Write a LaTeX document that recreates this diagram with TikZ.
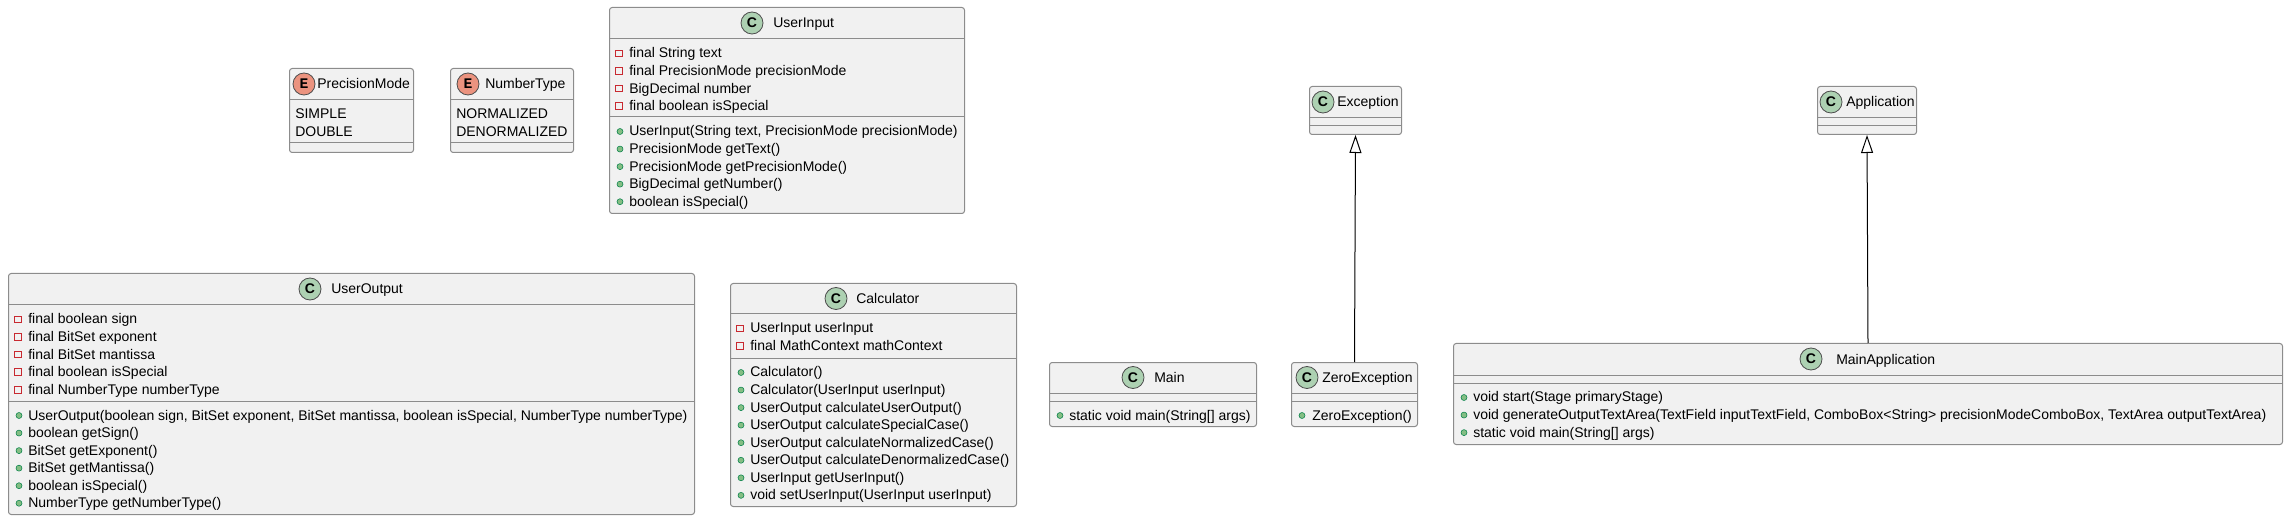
\documentclass[tikz,border=0pt]{standalone}
\usepackage{fontspec}
\setmainfont{Liberation Sans}
\newfontfamily\spotmono{Liberation Mono}
\usepackage{xcolor}
\usetikzlibrary{arrows.meta}

\definecolor{boxfill}{HTML}{F1F1F1}
\definecolor{boxline}{HTML}{8C8C8C}
\definecolor{spotgreen}{HTML}{ADD1B2}
\definecolor{spotred}{HTML}{EB937F}
\definecolor{spotline}{HTML}{4D4D4D}
\definecolor{privred}{HTML}{C82930}
\definecolor{pubgreen}{HTML}{84BE84}
\definecolor{publine}{HTML}{038048}

\newdimen\umlpx
\umlpx=0.75pt
\newcommand\umlfont{\fontsize{10.5pt}{12pt}\selectfont}

\tikzset{
    classbox/.style={draw=boxline, fill=boxfill, rounded corners=2pt, line width=0.75pt,
        anchor=north west, inner sep=0pt},
    sepline/.style={draw=boxline, line width=0.75pt},
    cspot/.style={circle, draw=spotline, fill=spotgreen, minimum size=16.5pt, inner sep=0pt,
        line width=0.6pt, font=\fontsize{10.5pt}{10.5pt}\selectfont\bfseries},
    espot/.style={cspot, fill=spotred, font=\spotmono\fontsize{11pt}{11pt}\selectfont\bfseries},
    title/.style={anchor=base west, inner sep=0pt, font=\umlfont},
    member/.style={anchor=base west, inner sep=0pt, font=\umlfont},
    privmark/.style={rectangle, draw=privred, minimum size=5pt, inner sep=0pt, line width=0.75pt},
    pubmark/.style={circle, draw=publine, fill=pubgreen, minimum size=4.5pt, inner sep=0pt, line width=0.4pt},
    extends/.style={-{Triangle[open, length=13.5pt, width=9pt]}, line width=0.75pt, black},
}

\begin{document}
\begin{tikzpicture}[x=0.75pt, y=-0.75pt]
    \useasboundingbox (0,0) rectangle (2285,520);

    % Enums --  --  --  --  --  --  --  --  --  --  --  --  --  --  --
    % PrecisionMode
    \node[classbox, minimum width=124\umlpx, minimum height=84\umlpx] (pmo) at (289,68) {};
    \draw[sepline] (289,100) -- (413,100);
    \draw[sepline] (289,143) -- (413,143);
    \node[espot] (pmo-spot) at (304,84) {E};
    \node[title] (pmo-name) at (317,89) {PrecisionMode};
    \foreach \txt [count=\i] in {SIMPLE, DOUBLE}
        \node[member] (pmo-v\i) at (295,{118.5+(\i-1)*17.55}) {\txt};

    % NumberType
    \node[classbox, minimum width=123\umlpx, minimum height=84\umlpx] (nty) at (450,68) {};
    \draw[sepline] (450,100) -- (573,100);
    \draw[sepline] (450,143) -- (573,143);
    \node[espot] (nty-spot) at (468,84) {E};
    \node[title] (nty-name) at (485,89) {NumberType};
    \foreach \txt [count=\i] in {NORMALIZED, DENORMALIZED}
        \node[member] (nty-v\i) at (456,{118.5+(\i-1)*17.55}) {\txt};
    %  --  --  --  --  --  --  --  --  --  --  --  --  --  --  --  --

    % UserInput --  --  --  --  --  --  --  --  --  --  --  --  --  --
    \node[classbox, minimum width=355\umlpx, minimum height=206\umlpx] (uin) at (609,7) {};
    \draw[sepline] (609,39) -- (964,39);
    \draw[sepline] (609,117) -- (964,117);
    \node[cspot] (uin-spot) at (752,23) {C};
    \node[title] (uin-name) at (773,28) {UserInput};
    \foreach \txt [count=\i] in {final String text, final PrecisionMode precisionMode,
            BigDecimal number, final boolean isSpecial} {
        \node[privmark] (uin-pa\i) at (619,{53.5+(\i-1)*17.55}) {};
        \node[member] (uin-a\i) at (629,{58+(\i-1)*17.55}) {\txt};
    }
    \foreach \txt [count=\i] in {{UserInput(String text, PrecisionMode precisionMode)},
            PrecisionMode getText(), PrecisionMode getPrecisionMode(),
            BigDecimal getNumber(), boolean isSpecial()} {
        \node[pubmark] (uin-pm\i) at (620,{131.5+(\i-1)*17.55}) {};
        \node[member] (uin-m\i) at (629,{136+(\i-1)*17.55}) {\txt};
    }
    %  --  --  --  --  --  --  --  --  --  --  --  --  --  --  --  --

    % Exception and Application --  --  --  --  --  --  --  --  --  --
    \node[classbox, minimum width=92\umlpx, minimum height=48\umlpx] (exc) at (1309,86) {};
    \draw[sepline] (1309,118) -- (1401,118);
    \draw[sepline] (1309,126) -- (1401,126);
    \node[cspot] (exc-spot) at (1323,102) {C};
    \node[title] (exc-name) at (1337,107) {Exception};

    \node[classbox, minimum width=99\umlpx, minimum height=48\umlpx] (app) at (1817,86) {};
    \draw[sepline] (1817,118) -- (1916,118);
    \draw[sepline] (1817,126) -- (1916,126);
    \node[cspot] (app-spot) at (1831,102) {C};
    \node[title] (app-name) at (1846,107) {Application};
    %  --  --  --  --  --  --  --  --  --  --  --  --  --  --  --  --

    % UserOutput --  --  --  --  --  --  --  --  --  --  --  --  --  --
    \node[classbox, minimum width=686\umlpx, minimum height=241\umlpx] (uou) at (8,273) {};
    \draw[sepline] (8,305) -- (694,305);
    \draw[sepline] (8,401) -- (694,401);
    \node[cspot] (uou-spot) at (310,289) {C};
    \node[title] (uou-name) at (331,294) {UserOutput};
    \foreach \txt [count=\i] in {final boolean sign, final BitSet exponent, final BitSet mantissa,
            final boolean isSpecial, final NumberType numberType} {
        \node[privmark] (uou-pa\i) at (18,{319.5+(\i-1)*17.55}) {};
        \node[member] (uou-a\i) at (28,{324+(\i-1)*17.55}) {\txt};
    }
    \foreach \txt [count=\i] in {{UserOutput(boolean sign, BitSet exponent, BitSet mantissa, boolean isSpecial, NumberType numberType)},
            boolean getSign(), BitSet getExponent(), BitSet getMantissa(),
            boolean isSpecial(), NumberType getNumberType()} {
        \node[pubmark] (uou-pm\i) at (19,{415.5+(\i-1)*17.55}) {};
        \node[member] (uou-m\i) at (28,{420+(\i-1)*17.55}) {\txt};
    }
    %  --  --  --  --  --  --  --  --  --  --  --  --  --  --  --  --

    % Calculator --  --  --  --  --  --  --  --  --  --  --  --  --  --
    \node[classbox, minimum width=286\umlpx, minimum height=223\umlpx] (cal) at (730,283) {};
    \draw[sepline] (730,314) -- (1016,314);
    \draw[sepline] (730,358) -- (1016,358);
    \node[cspot] (cal-spot) at (836,298.5) {C};
    \node[title] (cal-name) at (856,303.5) {Calculator};
    \foreach \txt [count=\i] in {UserInput userInput, final MathContext mathContext} {
        \node[privmark] (cal-pa\i) at (740,{328.5+(\i-1)*17.55}) {};
        \node[member] (cal-a\i) at (750,{333+(\i-1)*17.55}) {\txt};
    }
    \foreach \txt [count=\i] in {Calculator(), Calculator(UserInput userInput),
            UserOutput calculateUserOutput(), UserOutput calculateSpecialCase(),
            UserOutput calculateNormalizedCase(), UserOutput calculateDenormalizedCase(),
            UserInput getUserInput(), void setUserInput(UserInput userInput)} {
        \node[pubmark] (cal-pm\i) at (741,{372.5+(\i-1)*17.55}) {};
        \node[member] (cal-m\i) at (750,{377+(\i-1)*17.55}) {\txt};
    }
    %  --  --  --  --  --  --  --  --  --  --  --  --  --  --  --  --

    % Main and ZeroException --  --  --  --  --  --  --  --  --  --  --
    \node[classbox, minimum width=207\umlpx, minimum height=64\umlpx] (mai) at (1049,362) {};
    \draw[sepline] (1049,393) -- (1256,393);
    \draw[sepline] (1049,401) -- (1256,401);
    \node[cspot] (mai-spot) at (1133,377.5) {C};
    \node[title] (mai-name) at (1154,382.5) {Main};
    \node[pubmark] (mai-pm1) at (1060,415.5) {};
    \node[member] (mai-m1) at (1069,420) {static void main(String[] args)};

    \node[classbox, minimum width=126\umlpx, minimum height=64\umlpx] (zex) at (1291,362) {};
    \draw[sepline] (1291,393) -- (1417,393);
    \draw[sepline] (1291,401) -- (1417,401);
    \node[cspot] (zex-spot) at (1307,377.5) {C};
    \node[title] (zex-name) at (1322,382.5) {ZeroException};
    \node[pubmark] (zex-pm1) at (1302,415.5) {};
    \node[member] (zex-m1) at (1312,420) {ZeroException()};
    %  --  --  --  --  --  --  --  --  --  --  --  --  --  --  --  --

    % MainApplication --  --  --  --  --  --  --  --  --  --  --  --  --
    \node[classbox, minimum width=829\umlpx, minimum height=101\umlpx] (map) at (1453,343) {};
    \draw[sepline] (1453,375) -- (2282,375);
    \draw[sepline] (1453,383) -- (2282,383);
    \node[cspot] (map-spot) at (1811,359) {C};
    \node[title] (map-name) at (1836,364) {MainApplication};
    \foreach \txt [count=\i] in {void start(Stage primaryStage),
            {void generateOutputTextArea(TextField inputTextField, ComboBox<String> precisionModeComboBox, TextArea outputTextArea)},
            static void main(String[] args)} {
        \node[pubmark] (map-pm\i) at (1464,{397.5+(\i-1)*17.55}) {};
        \node[member] (map-m\i) at (1473,{402+(\i-1)*17.55}) {\txt};
    }
    %  --  --  --  --  --  --  --  --  --  --  --  --  --  --  --  --

    % Inheritance
    \draw[extends] (zex.north) -- (exc.south);
    \draw[extends] (map.north) -- (app.south);
\end{tikzpicture}
\end{document}
